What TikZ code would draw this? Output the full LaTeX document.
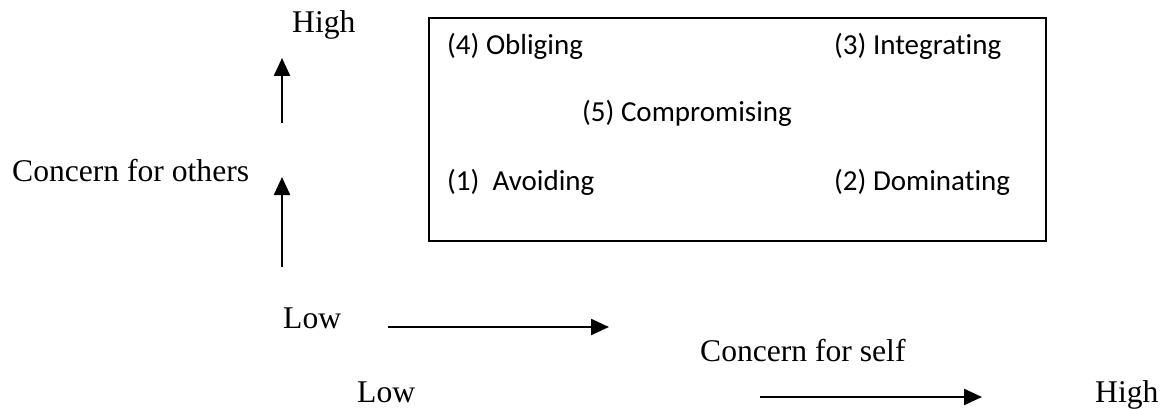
\documentclass[tikz,border=0pt]{standalone}
\usepackage{fontspec}
\setmainfont{Liberation Serif}
\newfontfamily\calibrifont[Ligatures=NoCommon]{Carlito}
\usetikzlibrary{arrows.meta}
\tikzset{>={Triangle[length=18pt,width=16pt]},
  axislabel/.style={inner sep=0pt, anchor=base west, font=\fontsize{31.6}{38}\selectfont},
  modelabel/.style={inner sep=0pt, anchor=base west, font=\calibrifont\fontsize{29}{35}\selectfont},
  axisarrow/.style={line width=2.3pt, ->}
}

\begin{document}
\begin{tikzpicture}[x=1pt, y=-1pt]
\useasboundingbox (0,0) rectangle (1162,409);
% box with the five styles
\node[draw, line width=1.6pt, inner sep=0pt, anchor=north west,
  minimum width=617pt, minimum height=223pt] (modes) at (428,17) {};
\node[modelabel] (obliging)      at (447,55)  {(4) Obliging};
\node[modelabel] (integrating)   at (834,55)  {(3) Integrating};
\node[modelabel] (compromising)  at (582,122) {(5) Compromising};
\node[modelabel] (avoiding)      at (447,190) {(1)\ \ Avoiding};
\node[modelabel] (dominating)    at (834,190) {(2) Dominating};
% vertical axis
\node[axislabel] (others-high) at (292,33)  {High};
\node[axislabel] (others)      at (12,181)  {Concern for others};
\node[axislabel] (others-low)  at (283,328) {Low};
\coordinate (up1-a) at (282,123);
\coordinate (up1-b) at (282,58);
\coordinate (up2-a) at (282,267);
\coordinate (up2-b) at (282,177);
\draw[axisarrow] (up1-a) -- (up1-b);
\draw[axisarrow] (up2-a) -- (up2-b);
% horizontal axis
\node[axislabel] (self)      at (700,361)  {Concern for self};
\node[axislabel] (self-low)  at (357,402)  {Low};
\node[axislabel] (self-high) at (1095,402) {High};
\coordinate (right1-a) at (388,327);
\coordinate (right1-b) at (609,327);
\coordinate (right2-a) at (760,397);
\coordinate (right2-b) at (982,397);
\draw[axisarrow] (right1-a) -- (right1-b);
\draw[axisarrow] (right2-a) -- (right2-b);
\end{tikzpicture}
\end{document}
